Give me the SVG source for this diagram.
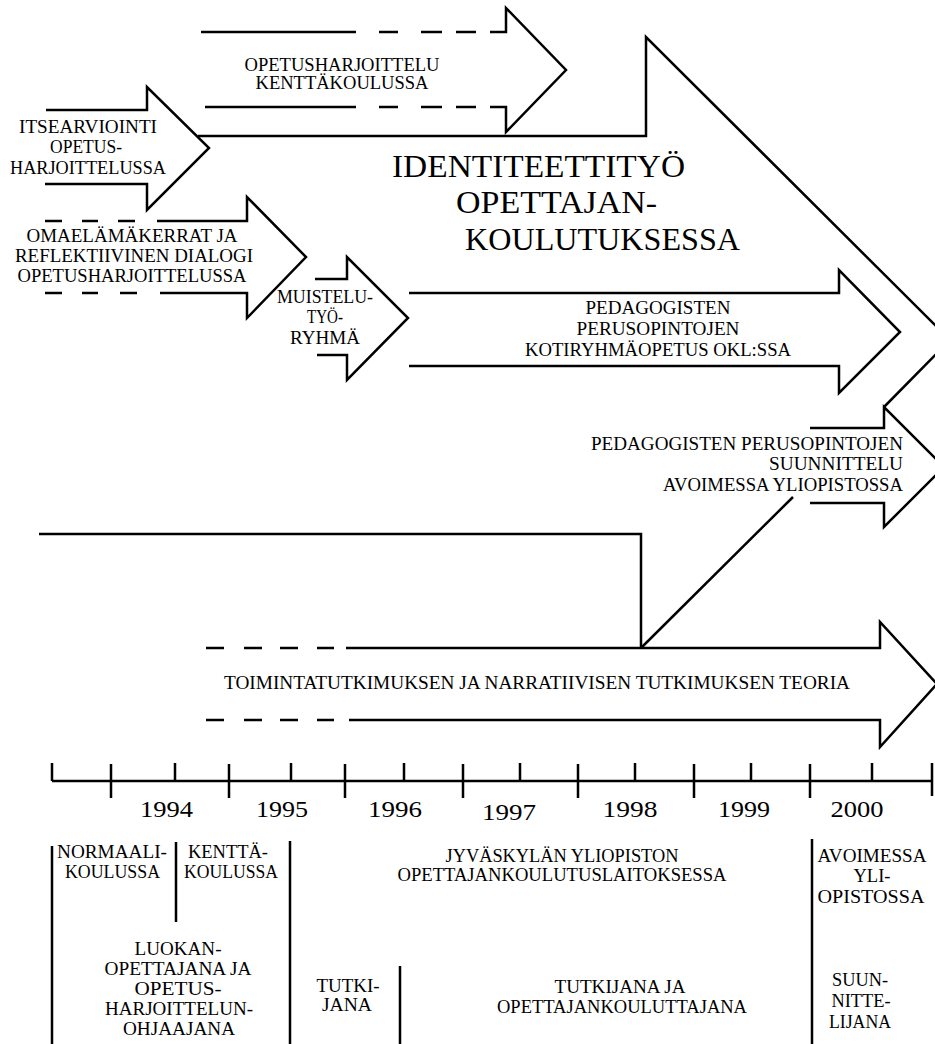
<svg xmlns="http://www.w3.org/2000/svg" width="935" height="1044" viewBox="0 0 935 1044">
  <style>
    .ln { fill: none; stroke: #000; stroke-width: 2.5; stroke-linejoin: miter; stroke-linecap: butt; }
    .tk { fill: none; stroke: #000; stroke-width: 2.5; }
    text { font-family: "Liberation Serif", "Times New Roman", serif; fill: #000; }
    .lb { font-size: 18.5px; }
    .c { text-anchor: middle; }
    .r { text-anchor: end; }
    .title { font-size: 31px; }
    .yr { font-size: 23px; text-anchor: middle; }
  </style>
  <rect width="935" height="1044" fill="#fff"/>

  <!-- arrow: teaching practice in the field school -->
  <g id="opetusharjoittelu">
    <path class="ln" d="M201 32 H356 M379 32 H398 M421 32 H442 M456 32 H476 M490 32 H506 V8 L566 70 L506 132 V107 H490 M476 107 H456 M442 107 H421 M398 107 H379 M356 107 H205"/>
    <text class="lb c" x="342" y="71" textLength="195" lengthAdjust="spacingAndGlyphs">OPETUSHARJOITTELU</text>
    <text class="lb c" x="342" y="89" textLength="173" lengthAdjust="spacingAndGlyphs">KENTTÄKOULUSSA</text>
  </g>

  <!-- arrow: self-assessment -->
  <g id="itsearviointi">
    <path class="ln" d="M46 110 H147 V87 L209 148 L147 210 V184 H45"/>
    <text class="lb c" x="88" y="133" textLength="138" lengthAdjust="spacingAndGlyphs">ITSEARVIOINTI</text>
    <text class="lb c" x="86" y="153" textLength="72" lengthAdjust="spacingAndGlyphs">OPETUS-</text>
    <text class="lb c" x="88" y="174" textLength="156" lengthAdjust="spacingAndGlyphs">HARJOITTELUSSA</text>
  </g>

  <!-- large arrow: identity work -->
  <g id="identiteettityo">
    <path class="ln" d="M198 136 H646 V37 L950 340 L884 407"/>
    <text class="title" x="392" y="177" textLength="293" lengthAdjust="spacingAndGlyphs">IDENTITEETTITYÖ</text>
    <text class="title" x="456" y="213" textLength="201" lengthAdjust="spacingAndGlyphs">OPETTAJAN-</text>
    <text class="title" x="465" y="250" textLength="275" lengthAdjust="spacingAndGlyphs">KOULUTUKSESSA</text>
  </g>

  <!-- arrow: autobiographies -->
  <g id="omaelamakerrat">
    <path class="ln" d="M45 221 H62 M82 221 H98 M118 221 H135 M157 221 H247 V197 L306 257 L247 318 V293 H160 M137 293 H120 M98 293 H82 M62 293 H45"/>
    <text class="lb c" x="132" y="242" textLength="211" lengthAdjust="spacingAndGlyphs">OMAELÄMÄKERRAT JA</text>
    <text class="lb c" x="134" y="262" textLength="238" lengthAdjust="spacingAndGlyphs">REFLEKTIIVINEN DIALOGI</text>
    <text class="lb c" x="132" y="282" textLength="229" lengthAdjust="spacingAndGlyphs">OPETUSHARJOITTELUSSA</text>
  </g>

  <!-- arrow: memory work group -->
  <g id="muistelu">
    <path class="ln" d="M315 279 H347 V257 L408 318 L347 380 V355 H317"/>
    <text class="lb c" x="325" y="303" textLength="96" lengthAdjust="spacingAndGlyphs">MUISTELU-</text>
    <text class="lb c" x="325" y="323" textLength="36" lengthAdjust="spacingAndGlyphs">TYÖ-</text>
    <text class="lb c" x="325" y="344" textLength="70" lengthAdjust="spacingAndGlyphs">RYHMÄ</text>
  </g>

  <!-- arrow: home group teaching -->
  <g id="kotiryhma">
    <path class="ln" d="M409 293 H839 V270 L900 332 L839 393 V366 H409"/>
    <text class="lb c" x="658" y="314" textLength="145" lengthAdjust="spacingAndGlyphs">PEDAGOGISTEN</text>
    <text class="lb c" x="658" y="335" textLength="163" lengthAdjust="spacingAndGlyphs">PERUSOPINTOJEN</text>
    <text class="lb c" x="658" y="356" textLength="266" lengthAdjust="spacingAndGlyphs">KOTIRYHMÄOPETUS OKL:SSA</text>
  </g>

  <!-- arrow: planning at the open university -->
  <g id="suunnittelu">
    <path class="ln" d="M810 428 H884 V407 L944 467 L884 527 V503 H810"/>
    <text class="lb r" x="903" y="450" textLength="312" lengthAdjust="spacingAndGlyphs">PEDAGOGISTEN PERUSOPINTOJEN</text>
    <text class="lb r" x="903" y="470" textLength="134" lengthAdjust="spacingAndGlyphs">SUUNNITTELU</text>
    <text class="lb r" x="903" y="491" textLength="240" lengthAdjust="spacingAndGlyphs">AVOIMESSA YLIOPISTOSSA</text>
  </g>

  <!-- arrow: theory of action research and narrative research -->
  <g id="teoria">
    <path class="ln" d="M206 648 H224 M244 648 H262 M280 648 H298 M317 648 H334 M346 648 H880 V622 L937 684 L880 747 V720 H349 M334 720 H317 M298 720 H280 M262 720 H244 M224 720 H206"/>
    <text class="lb" x="224" y="689" textLength="626" lengthAdjust="spacingAndGlyphs">TOIMINTATUTKIMUKSEN JA NARRATIIVISEN TUTKIMUKSEN TEORIA</text>
  </g>

  <!-- connectors -->
  <g id="connectors">
    <path class="ln" d="M39 534 H641 V648"/>
    <path class="ln" d="M641 648 L793 497"/>
  </g>

  <!-- time axis -->
  <g id="timeline">
    <path class="tk" d="M52 781 H932"/>
    <path class="tk" d="M52 763 V781 M175 763 V781 M291 763 V781 M404 763 V781 M520 763 V781 M635 763 V781 M751 763 V781 M872 763 V781"/>
    <path class="tk" d="M111 764 V798 M229 764 V798 M345 764 V798 M463 764 V798 M578 764 V798 M694 764 V798 M810 764 V798 M932 763 V796"/>
    <text class="yr" x="166.5" y="817" textLength="53" lengthAdjust="spacingAndGlyphs">1994</text>
    <text class="yr" x="282" y="817" textLength="52" lengthAdjust="spacingAndGlyphs">1995</text>
    <text class="yr" x="395" y="817" textLength="54" lengthAdjust="spacingAndGlyphs">1996</text>
    <text class="yr" x="509" y="820" textLength="54" lengthAdjust="spacingAndGlyphs">1997</text>
    <text class="yr" x="630" y="817" textLength="55" lengthAdjust="spacingAndGlyphs">1998</text>
    <text class="yr" x="744" y="817" textLength="52" lengthAdjust="spacingAndGlyphs">1999</text>
    <text class="yr" x="857" y="817" textLength="53" lengthAdjust="spacingAndGlyphs">2000</text>
  </g>

  <!-- places and roles -->
  <g id="roles">
    <path class="tk" d="M52 846 V1044 M176 842 V922 M290 841 V1044 M400 966 V1044 M812 839 V1044"/>
    <text class="lb" x="57" y="858" textLength="110" lengthAdjust="spacingAndGlyphs">NORMAALI-</text>
    <text class="lb" x="65" y="878" textLength="95" lengthAdjust="spacingAndGlyphs">KOULUSSA</text>
    <text class="lb" x="188" y="858" textLength="80" lengthAdjust="spacingAndGlyphs">KENTTÄ-</text>
    <text class="lb" x="184" y="878" textLength="94" lengthAdjust="spacingAndGlyphs">KOULUSSA</text>
    <text class="lb c" x="562" y="862" textLength="233" lengthAdjust="spacingAndGlyphs">JYVÄSKYLÄN YLIOPISTON</text>
    <text class="lb c" x="562" y="881" textLength="329" lengthAdjust="spacingAndGlyphs">OPETTAJANKOULUTUSLAITOKSESSA</text>
    <text class="lb c" x="872" y="862" textLength="109" lengthAdjust="spacingAndGlyphs">AVOIMESSA</text>
    <text class="lb c" x="872" y="882">YLI-</text>
    <text class="lb c" x="871" y="903" textLength="107" lengthAdjust="spacingAndGlyphs">OPISTOSSA</text>
    <text class="lb c" x="178" y="955" textLength="87" lengthAdjust="spacingAndGlyphs">LUOKAN-</text>
    <text class="lb c" x="178" y="975" textLength="147" lengthAdjust="spacingAndGlyphs">OPETTAJANA JA</text>
    <text class="lb c" x="178" y="995" textLength="87" lengthAdjust="spacingAndGlyphs">OPETUS-</text>
    <text class="lb c" x="179" y="1015" textLength="148" lengthAdjust="spacingAndGlyphs">HARJOITTELUN-</text>
    <text class="lb c" x="179" y="1035" textLength="112" lengthAdjust="spacingAndGlyphs">OHJAAJANA</text>
    <text class="lb c" x="348" y="992" textLength="63" lengthAdjust="spacingAndGlyphs">TUTKI-</text>
    <text class="lb c" x="347" y="1011" textLength="50" lengthAdjust="spacingAndGlyphs">JANA</text>
    <text class="lb c" x="620" y="993" textLength="131" lengthAdjust="spacingAndGlyphs">TUTKIJANA JA</text>
    <text class="lb c" x="622" y="1013" textLength="250" lengthAdjust="spacingAndGlyphs">OPETTAJANKOULUTTAJANA</text>
    <text class="lb c" x="860" y="986" textLength="56" lengthAdjust="spacingAndGlyphs">SUUN-</text>
    <text class="lb c" x="861" y="1007" textLength="59" lengthAdjust="spacingAndGlyphs">NITTE-</text>
    <text class="lb c" x="860" y="1028" textLength="62" lengthAdjust="spacingAndGlyphs">LIJANA</text>
  </g>
</svg>
